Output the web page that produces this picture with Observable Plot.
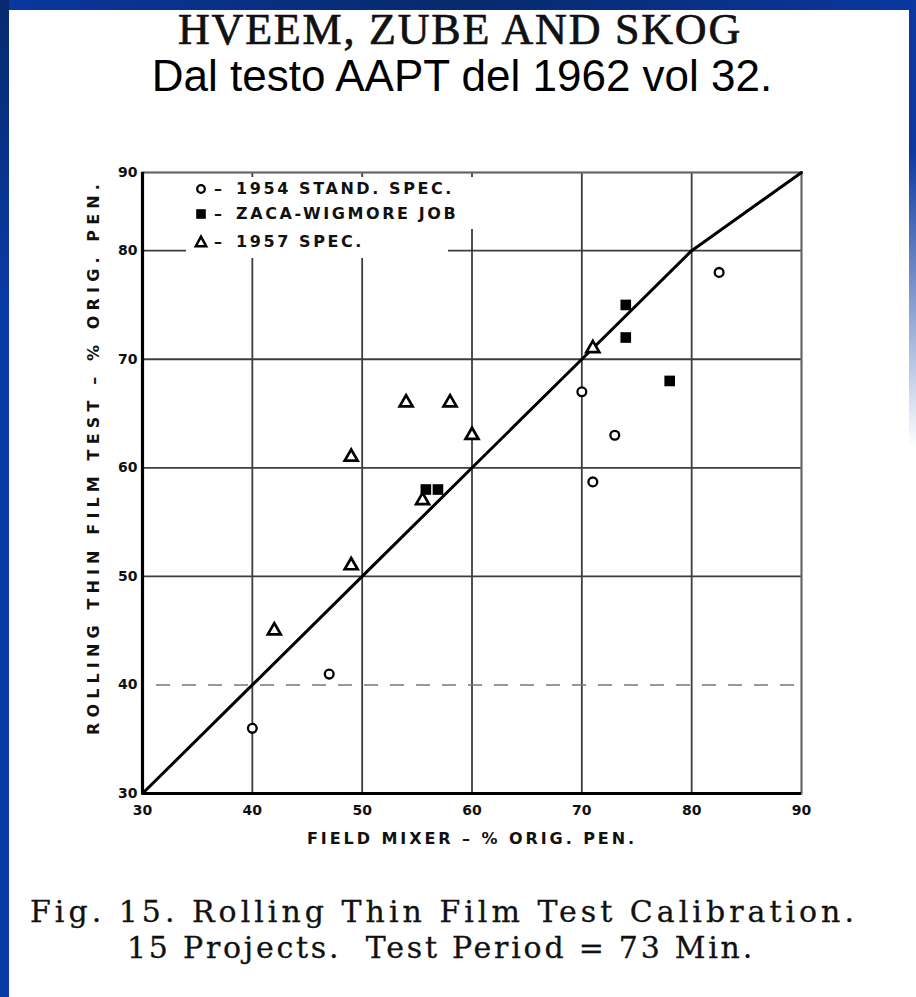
<!DOCTYPE html>
<html>
<head>
<meta charset="utf-8">
<script src="https://cdn.jsdelivr.net/npm/d3@7"></script>
<script src="https://cdn.jsdelivr.net/npm/@observablehq/plot@0.6"></script>
<style>
  html, body { margin: 0; padding: 0; background: #ffffff; }
  #page { position: relative; width: 916px; height: 997px; overflow: hidden; background: #ffffff; }
  .band { position: absolute; }
  .txt { position: absolute; width: 1000px; text-align: center; white-space: pre; line-height: 1; color: #111; }
  .txt span { white-space: pre; }
  #chart { position: absolute; left: 0; top: 120px; }
  .mask { position: absolute; background: #ffffff; }
  .lg { position: absolute; white-space: pre; font-family: "DejaVu Sans"; font-weight: bold; font-size: 16px; line-height: 1; color: #111; }
  .lgsym { position: absolute; }
</style>
</head>
<body>
<div id="page">
  <div class="band" style="left:0;top:0;width:916px;height:10px;background:linear-gradient(90deg,#0a37a0,#062a6c 50%,#0a37a0);"></div>
  <div class="band" style="left:0;top:0;width:9px;height:997px;background:linear-gradient(180deg,#062a6c,#0a3aa6 30%,#0a3aa6);"></div>
  <div class="band" style="right:0;top:0;width:7px;height:997px;background:linear-gradient(180deg,#0a37a0,#0a37a0 15%,rgba(10,55,160,0) 45%);"></div>

  <div class="txt" id="title" style="left:-40px;top:9px;font-family:'Liberation Serif';font-size:44px;line-height:42px;-webkit-text-stroke:0.7px #111;"><span></span></div>
  <div class="txt" id="subtitle" style="left:-38px;top:54px;font-family:'Liberation Sans';font-size:44px;color:#000;"><span></span></div>
  <div id="chart"></div>
  <div class="txt" id="cap1" style="left:-56px;top:897px;font-family:'DejaVu Serif';font-size:30px;-webkit-text-stroke:0.3px #111;"><span></span></div>
  <div class="txt" id="cap2" style="left:-59px;top:933px;font-family:'DejaVu Serif';font-size:30px;-webkit-text-stroke:0.3px #111;"><span></span></div>
</div>
<script>
// ---------- data ----------
const titleText = "HVEEM, ZUBE AND SKOG";
const subtitleText = "Dal testo AAPT del 1962 vol 32.";
const captionLines = ["Fig. 15. Rolling Thin Film Test Calibration.", "15 Projects.  Test Period = 73 Min."];
const xTitle = "FIELD MIXER – % ORIG. PEN.";
const yTitle = "ROLLING THIN FILM TEST – % ORIG. PEN.";

const xTicks = [30, 40, 50, 60, 70, 80, 90];
const yTicks = [30, 40, 50, 60, 70, 80, 90];
const gridXValues = [40, 50, 60, 70, 80];
const gridYSolid = [50, 60, 70, 80];
const gridYDashed = [40];

const legendLabels = ["1954 STAND. SPEC.", "ZACA-WIGMORE JOB", "1957 SPEC."];

// 1954 Stand. Spec. (open circles)
const std1954X = [40, 47, 70, 71, 73, 82.5];
const std1954Y = [36, 41, 67, 58.7, 63, 78];
// Zaca-Wigmore Job (filled squares)
const zacaX = [55.8, 56.9, 74, 74, 78];
const zacaY = [58, 58, 75, 72, 68];
// 1957 Spec. (open triangles)
const spec1957X = [42, 49, 49, 54, 58, 60, 55.5, 71];
const spec1957Y = [45, 51, 61, 66, 66, 63, 57, 71];
// line of equality (drawn through the tick values)
const equalityX = [30, 40, 50, 60, 70, 80, 90];
const equalityY = [30, 40, 50, 60, 70, 80, 90];

// ---------- tables ----------
const pts = (xs, ys) => xs.map((x, i) => ({x, y: ys[i]}));
const std1954 = pts(std1954X, std1954Y);
const zaca = pts(zacaX, zacaY);
const spec1957 = pts(spec1957X, spec1957Y);
const equality = pts(equalityX, equalityY);

// the printed grid is compressed in its top band (80–90)
const bandStart = 80, bandFactor = 0.72;
const compressTop = v => (v <= bandStart ? v : bandStart + (v - bandStart) * bandFactor);

// ---------- plot ----------
const H = 760;
const chart = Plot.plot({
  width: 916,
  height: H,
  marginLeft: 142,
  marginRight: 115,
  marginTop: 52,
  marginBottom: 87,
  x: {domain: [30, 90]},
  y: {transform: compressTop, domain: [compressTop(30), compressTop(90)]},
  style: {fontFamily: "DejaVu Sans", background: "transparent", color: "#111", overflow: "visible"},
  marks: [
    Plot.gridX(gridXValues, {stroke: "#3d3d3d", strokeWidth: 1.8, strokeOpacity: 1}),
    Plot.gridY(gridYSolid, {stroke: "#3d3d3d", strokeWidth: 1.8, strokeOpacity: 1}),
    Plot.ruleY(gridYDashed, {stroke: "#777", strokeWidth: 1.5, strokeDasharray: "14 12", strokeDashoffset: -40}),
    Plot.frame({stroke: "#666", strokeWidth: 2.2}),
    Plot.ruleX([xTicks[0]], {stroke: "#000", strokeWidth: 3.2}),
    Plot.ruleY([yTicks[0]], {stroke: "#000", strokeWidth: 3.2}),
    Plot.line(equality, {x: "x", y: "y", stroke: "#000", strokeWidth: 3}),
    Plot.dot(std1954, {x: "x", y: "y", r: 4.4, stroke: "#000", strokeWidth: 2.3, fill: "#fff"}),
    Plot.dot(zaca, {x: "x", y: "y", symbol: "square", r: 6, fill: "#000", stroke: "none"}),
    Plot.dot(spec1957, {x: "x", y: "y", symbol: "triangle", r: 4.8, stroke: "#000", strokeWidth: 2.7, fill: "#fff"}),
    Plot.axisX(xTicks, {tickSize: 0, tickPadding: 12, fontSize: 14, fontWeight: "bold", label: null}),
    Plot.axisY(yTicks, {tickSize: 0, tickPadding: 5, fontSize: 14, fontWeight: "bold", label: null}),
    Plot.text([xTitle], {frameAnchor: "bottom", dy: 45, fontSize: 16, fontWeight: "bold", lineAnchor: "middle", textAnchor: "middle"}),
    Plot.text([yTitle], {frameAnchor: "left", dx: -49, dy: -26, rotate: -90, fontSize: 16, fontWeight: "bold", lineAnchor: "middle", textAnchor: "middle"})
  ]
});
document.getElementById("chart").appendChild(chart);

// spread axis titles like the hand lettering
d3.select(chart).selectAll("text").each(function() {
  const t = this.textContent;
  let target = null;
  if (t === xTitle) target = 330;
  if (t === yTitle) target = 556;
  if (target) {
    const L = this.getComputedTextLength();
    const ls = (target - L) / [...t].length;
    this.style.letterSpacing = ls + "px";
  }
});

// ---------- html texts ----------
function setFit(id, text, target) {
  const span = document.querySelector("#" + id + " span");
  span.textContent = text;
  span.style.letterSpacing = "0px";
  const w = span.getBoundingClientRect().width;
  const n = [...text].length;
  if (target) span.style.letterSpacing = ((target - w) / n) + "px";
}
setFit("title", titleText, 564);
setFit("subtitle", subtitleText, null);
setFit("cap1", captionLines[0], 828);
setFit("cap2", captionLines[1], 628);

// ---------- legend (inside plot, masking grid) ----------
const page = document.getElementById("page");
function addDiv(cls, style, html) {
  const d = document.createElement("div");
  d.className = cls;
  d.setAttribute("style", style);
  if (html !== undefined) d.innerHTML = html;
  page.appendChild(d);
  return d;
}
addDiv("mask", "left:186px;top:177px;width:302px;height:52px;");
addDiv("mask", "left:186px;top:228px;width:262px;height:30px;");

const rowsY = [189, 214, 242];
const symbols = [
  '<svg width="16" height="16" viewBox="-8 -8 16 16"><circle r="3.8" fill="#fff" stroke="#000" stroke-width="2.3"/></svg>',
  '<svg width="16" height="16" viewBox="-8 -8 16 16"><rect x="-4.8" y="-4.8" width="9.6" height="9.6" fill="#000"/></svg>',
  '<svg width="16" height="16" viewBox="-8 -8 16 16"><path d="M0,-5.4L5.2,4.2L-5.2,4.2Z" fill="#fff" stroke="#000" stroke-width="2.5" stroke-linejoin="miter"/></svg>'
];
const lgSpans = [];
legendLabels.forEach((lab, i) => {
  const cy = rowsY[i];
  addDiv("lgsym", `left:193px;top:${cy - 8}px;width:16px;height:16px;`, symbols[i]);
  addDiv("lg", `left:214px;top:${cy - 8}px;`, "–");
  const d = addDiv("lg", `left:236px;top:${cy - 8}px;`);
  d.textContent = lab;
  lgSpans.push(d);
});
{
  const d = lgSpans[0];
  d.style.letterSpacing = "0px";
  const w = d.getBoundingClientRect().width;
  const ls = (218 - w) / [...legendLabels[0]].length;
  lgSpans.forEach(s => s.style.letterSpacing = ls + "px");
}
</script>
</body>
</html>
